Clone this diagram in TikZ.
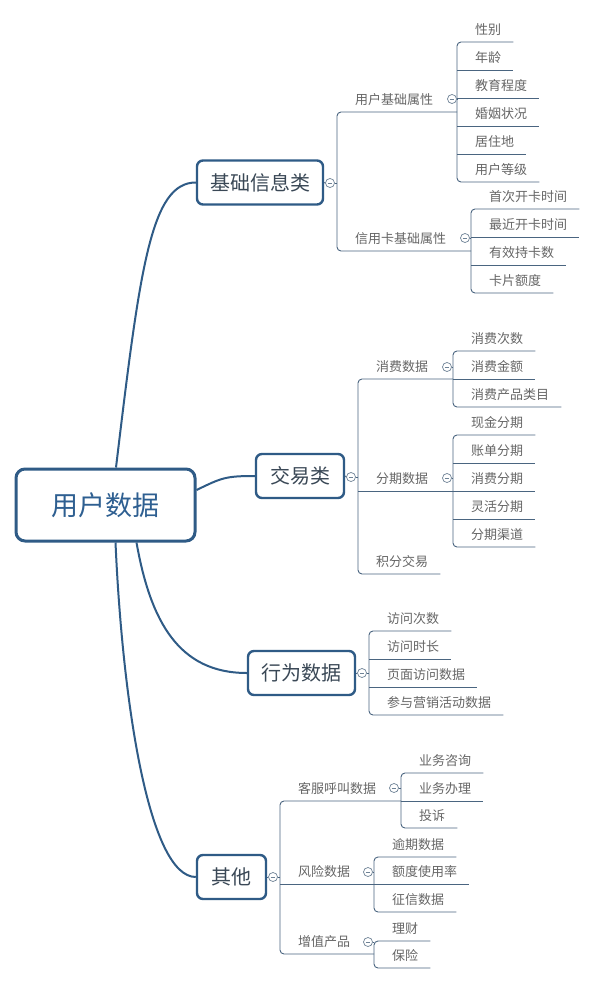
\documentclass[tikz,border=0pt]{standalone}
\usepackage{fontspec}
\setmainfont{Noto Sans CJK SC}
\usetikzlibrary{calc}
\definecolor{boxblue}{HTML}{2F5B86}
\definecolor{roottext}{HTML}{2E5F91}
\definecolor{lonetext}{HTML}{3A4856}
\definecolor{leaftext}{HTML}{666666}
\definecolor{thinline}{HTML}{4A6580}
\definecolor{cgray}{HTML}{6E8296}
\newcommand\lf[4]{\node[leaf] (#1) at (#2,#3) {\hspace*{18pt}#4\hspace*{12pt}};}
\newcommand\lab[4]{\node[leaf] (#1) at (#2,#3) {\hspace*{18pt}#4};}
\begin{document}
\begin{tikzpicture}[x=1pt,y=-1pt,
 rootbox/.style={draw=boxblue, line width=3pt, rounded corners=9pt, fill=white, minimum width=179pt, minimum height=72pt, inner sep=0, text=roottext, font=\fontsize{27}{30}\selectfont},
 topicbox/.style={draw=boxblue, line width=2.4pt, rounded corners=6pt, fill=white, minimum height=44pt, inner sep=0, text=lonetext, font=\fontsize{20}{24}\selectfont},
 mainline/.style={draw=boxblue, line width=2pt},
 thinl/.style={draw=thinline, line width=0.9pt},
 bracket/.style={thinl, rounded corners=4pt},
 leaf/.style={anchor=south west, inner sep=0, text height=11pt, text depth=7.6pt, text=leaftext, font=\fontsize{13}{15}\selectfont},
 collapse/.style={circle, draw=cgray, line width=0.7pt, fill=white, minimum size=9pt, inner sep=0, path picture={\draw[cgray, line width=0.7pt] ([xshift=2.2pt]path picture bounding box.west) -- ([xshift=-2.2pt]path picture bounding box.east);}}
]
\useasboundingbox (0,0) rectangle (595,984);
\fill[white] (0,0) rectangle (595,984);

% main topics
\node[rootbox] (R) at (105.5,505) {用户数据};
\node[topicbox, minimum width=126pt] (A) at (260,182.5) {基础信息类};
\node[topicbox, minimum width=88pt] (B) at (300,476) {交易类};
\node[topicbox, minimum width=107pt] (C) at (301.5,673) {行为数据};
\node[topicbox, minimum width=69pt] (D) at (231.5,877) {其他};

\draw[mainline] ([xshift=10.5pt]R.north) .. controls +(24,-200) and +(-45,0) .. (A.west);
\draw[mainline] ([yshift=15pt]R.east) .. controls +(25,-12) and +(-30,0) .. (B.west);
\draw[mainline] ([xshift=31pt]R.south) .. controls +(14,79) and +(-68,0) .. (C.west);
\draw[mainline] ([xshift=10pt]R.south) .. controls +(7,159) and +(-47,0) .. (D.west);

% ---------------- A: 基础信息类
\lab{a1}{337}{112}{用户基础属性}
\lab{a2}{337}{251}{信用卡基础属性}
\coordinate (sa1) at (457,112);
\coordinate (sa2) at (471,251);
\draw[bracket] (sa1) -- (a1.south west) -- (a2.south west) -- (sa2);
\node[collapse] (cA) at (330,183) {};
\draw[thinl] (A.east) -- (cA.west);
\draw[thinl] (cA.east) -- (cA.east -| a1.south west);

\lf{a11}{457}{42}{性别}
\lf{a12}{457}{70}{年龄}
\lf{a13}{457}{98}{教育程度}
\lf{a14}{457}{126}{婚姻状况}
\lf{a15}{457}{154}{居住地}
\lf{a16}{457}{182}{用户等级}
\draw[bracket] (a11.south east) -- (a11.south west) -- (a16.south west) -- (a16.south east);
\foreach \n in {a12,a13,a14,a15} \draw[thinl] (\n.south west) -- (\n.south east);
\node[collapse] (ca1) at (452,99) {};
\draw[thinl] (ca1.east) -- (ca1.east -| sa1);

\lf{a21}{471}{209}{首次开卡时间}
\lf{a22}{471}{237}{最近开卡时间}
\lf{a23}{471}{265}{有效持卡数}
\lf{a24}{471}{293}{卡片额度}
\draw[bracket] (a21.south east) -- (a21.south west) -- (a24.south west) -- (a24.south east);
\foreach \n in {a22,a23} \draw[thinl] (\n.south west) -- (\n.south east);
\node[collapse] (ca2) at (465,238) {};
\draw[thinl] (ca2.east) -- (ca2.east -| sa2);

% ---------------- B: 交易类
\lab{b1}{358}{379}{消费数据}
\lab{b2}{358}{491}{分期数据}
\lf{b3}{358}{574}{积分交易}
\coordinate (sb1) at (453,379);
\coordinate (sb2) at (453,491);
\draw[bracket] (sb1) -- (b1.south west) -- (b3.south west) -- (b3.south east);
\draw[thinl] (b2.south west) -- (sb2);
\node[collapse] (cB) at (351,477) {};
\draw[thinl] (B.east) -- (cB.west);
\draw[thinl] (cB.east) -- (cB.east -| b1.south west);

\lf{b11}{453}{351}{消费次数}
\lf{b12}{453}{379}{消费金额}
\lf{b13}{453}{407}{消费产品类目}
\draw[bracket] (b11.south east) -- (b11.south west) -- (b13.south west) -- (b13.south east);
\draw[thinl] (b12.south west) -- (b12.south east);
\node[collapse] (cb1) at (447,367) {};
\draw[thinl] (cb1.east) -- (cb1.east -| sb1);

\lf{b21}{453}{435}{现金分期}
\lf{b22}{453}{463}{账单分期}
\lf{b23}{453}{491}{消费分期}
\lf{b24}{453}{519}{灵活分期}
\lf{b25}{453}{547}{分期渠道}
\draw[bracket] (b21.south east) -- (b21.south west) -- (b25.south west) -- (b25.south east);
\foreach \n in {b22,b23,b24} \draw[thinl] (\n.south west) -- (\n.south east);
\node[collapse] (cb2) at (447,478) {};
\draw[thinl] (cb2.east) -- (cb2.east -| sb2);

% ---------------- C: 行为数据
\lf{c1}{369}{631}{访问次数}
\lf{c2}{369}{659}{访问时长}
\lf{c3}{369}{687}{页面访问数据}
\lf{c4}{369}{715}{参与营销活动数据}
\draw[bracket] (c1.south east) -- (c1.south west) -- (c4.south west) -- (c4.south east);
\foreach \n in {c2,c3} \draw[thinl] (\n.south west) -- (\n.south east);
\node[collapse] (cC) at (362,673) {};
\draw[thinl] (C.east) -- (cC.west);
\draw[thinl] (cC.east) -- (cC.east -| c1.south west);

% ---------------- D: 其他
\lab{d1}{280}{801}{客服呼叫数据}
\lab{d2}{280}{884}{风险数据}
\lab{d3}{280}{954}{增值产品}
\coordinate (sd1) at (401,801);
\coordinate (sd2) at (374,884);
\coordinate (sd3) at (374,954);
\draw[bracket] (sd1) -- (d1.south west) -- (d3.south west) -- (sd3);
\draw[thinl] (d2.south west) -- (sd2);
\node[collapse] (cD) at (273,877) {};
\draw[thinl] (D.east) -- (cD.west);
\draw[thinl] (cD.east) -- (cD.east -| d1.south west);

\lf{d11}{401}{773}{业务咨询}
\lf{d12}{401}{801}{业务办理}
\lf{d13}{401}{828}{投诉}
\draw[bracket] (d11.south east) -- (d11.south west) -- (d13.south west) -- (d13.south east);
\draw[thinl] (d12.south west) -- (d12.south east);
\node[collapse] (cd1) at (394,788) {};
\draw[thinl] (cd1.east) -- (cd1.east -| sd1);

\lf{d21}{374}{857}{逾期数据}
\lf{d22}{374}{884}{额度使用率}
\lf{d23}{374}{912}{征信数据}
\draw[bracket] (d21.south east) -- (d21.south west) -- (d23.south west) -- (d23.south east);
\draw[thinl] (d22.south west) -- (d22.south east);
\node[collapse] (cd2) at (368,872) {};
\draw[thinl] (cd2.east) -- (cd2.east -| sd2);

\lf{d31}{374}{941}{理财}
\lf{d32}{374}{968}{保险}
\draw[bracket] (d31.south east) -- (d31.south west) -- (d32.south west) -- (d32.south east);
\node[collapse] (cd3) at (368,942) {};
\draw[thinl] (cd3.east) -- (cd3.east -| sd3);
\end{tikzpicture}
\end{document}
